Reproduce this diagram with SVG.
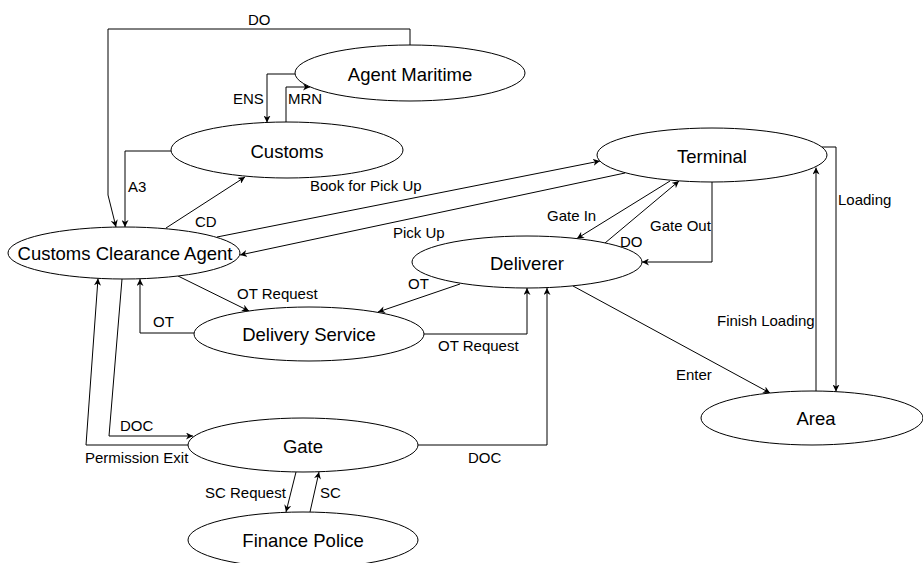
<svg xmlns="http://www.w3.org/2000/svg" width="923" height="563" viewBox="0 0 923 563">
  <style>
    .node ellipse { fill: #ffffff; stroke: #000000; stroke-width: 1; }
    .node text { font-family: "Liberation Sans", Arial, sans-serif; font-size: 18.5px; fill: #000000; text-anchor: middle; }
    .edge { fill: none; stroke: #000000; stroke-width: 1; marker-end: url(#arrow); }
    .lbl { font-family: "Liberation Sans", Arial, sans-serif; font-size: 15px; fill: #000000; }
  </style>
  <defs>
    <marker id="arrow" viewBox="0 0 10 10" refX="10" refY="5" markerWidth="7" markerHeight="7" markerUnits="userSpaceOnUse" orient="auto">
      <path d="M0,0 L10,5 L0,10 L3,5 z" fill="#000000"/>
    </marker>
  </defs>
  <rect width="923" height="563" fill="#ffffff"/>

  <!-- connectors -->
  <g id="connectors">
    <path class="edge" d="M410,45 V29 H108 V195 L116,227"/>
    <path class="edge" d="M295,74 H267 V122.5"/>
    <path class="edge" d="M286,122 V87 H310"/>
    <path class="edge" d="M171,151 H125 V227"/>
    <path class="edge" d="M166,228 L245,177"/>
    <path class="edge" d="M217,237 L600,161"/>
    <path class="edge" d="M625,173 L240,255"/>
    <path class="edge" d="M670,181 L577,238.5"/>
    <path class="edge" d="M605,243 L679,181"/>
    <path class="edge" d="M712,182 V262 H642"/>
    <path class="edge" d="M822,147 H836 V391.5"/>
    <path class="edge" d="M816,391 V167.5"/>
    <path class="edge" d="M573,286 L770,393"/>
    <path class="edge" d="M460,284 L378,312"/>
    <path class="edge" d="M178,276 L249,311"/>
    <path class="edge" d="M194,333 H140 V279"/>
    <path class="edge" d="M424,334 H527 V288"/>
    <path class="edge" d="M418,445 H547 V288"/>
    <path class="edge" d="M122,279 L109,436 H193"/>
    <path class="edge" d="M188,445 H86 L98,278.5"/>
    <path class="edge" d="M296,472 L286,512"/>
    <path class="edge" d="M310,512 L319,472"/>

    <text class="lbl" x="248" y="25">DO</text>
    <text class="lbl" x="233" y="104">ENS</text>
    <text class="lbl" x="288" y="104">MRN</text>
    <text class="lbl" x="128" y="192">A3</text>
    <text class="lbl" x="195" y="227">CD</text>
    <text class="lbl" x="310" y="191">Book for Pick Up</text>
    <text class="lbl" x="393" y="238">Pick Up</text>
    <text class="lbl" x="547" y="221">Gate In</text>
    <text class="lbl" x="620" y="247">DO</text>
    <text class="lbl" x="650" y="231">Gate Out</text>
    <text class="lbl" x="838" y="205">Loading</text>
    <text class="lbl" x="717" y="326">Finish Loading</text>
    <text class="lbl" x="676" y="380">Enter</text>
    <text class="lbl" x="408" y="289">OT</text>
    <text class="lbl" x="237" y="299">OT Request</text>
    <text class="lbl" x="153" y="327">OT</text>
    <text class="lbl" x="438" y="351">OT Request</text>
    <text class="lbl" x="468" y="463">DOC</text>
    <text class="lbl" x="120" y="431">DOC</text>
    <text class="lbl" x="85" y="463">Permission Exit</text>
    <text class="lbl" x="205" y="498">SC Request</text>
    <text class="lbl" x="320" y="498">SC</text>
  </g>

  <!-- nodes -->
  <g id="agent-maritime" class="node">
    <ellipse cx="410" cy="73" rx="115" ry="28"/>
    <text x="410" y="81">Agent Maritime</text>
  </g>
  <g id="customs" class="node">
    <ellipse cx="287" cy="150" rx="116" ry="28"/>
    <text x="287" y="158">Customs</text>
  </g>
  <g id="customs-clearance-agent" class="node">
    <ellipse cx="124" cy="253" rx="116" ry="26"/>
    <text x="125" y="260">Customs Clearance Agent</text>
  </g>
  <g id="terminal" class="node">
    <ellipse cx="712" cy="155" rx="115" ry="27"/>
    <text x="712" y="163">Terminal</text>
  </g>
  <g id="deliverer" class="node">
    <ellipse cx="527" cy="262" rx="115" ry="26"/>
    <text x="527" y="270">Deliverer</text>
  </g>
  <g id="delivery-service" class="node">
    <ellipse cx="309" cy="334" rx="115" ry="27"/>
    <text x="309" y="341">Delivery Service</text>
  </g>
  <g id="gate" class="node">
    <ellipse cx="303" cy="445" rx="115" ry="27"/>
    <text x="303" y="453">Gate</text>
  </g>
  <g id="finance-police" class="node">
    <ellipse cx="303" cy="540" rx="115" ry="28"/>
    <text x="303" y="547">Finance Police</text>
  </g>
  <g id="area" class="node">
    <ellipse cx="812" cy="418" rx="111" ry="27"/>
    <text x="816" y="425">Area</text>
  </g>
</svg>
